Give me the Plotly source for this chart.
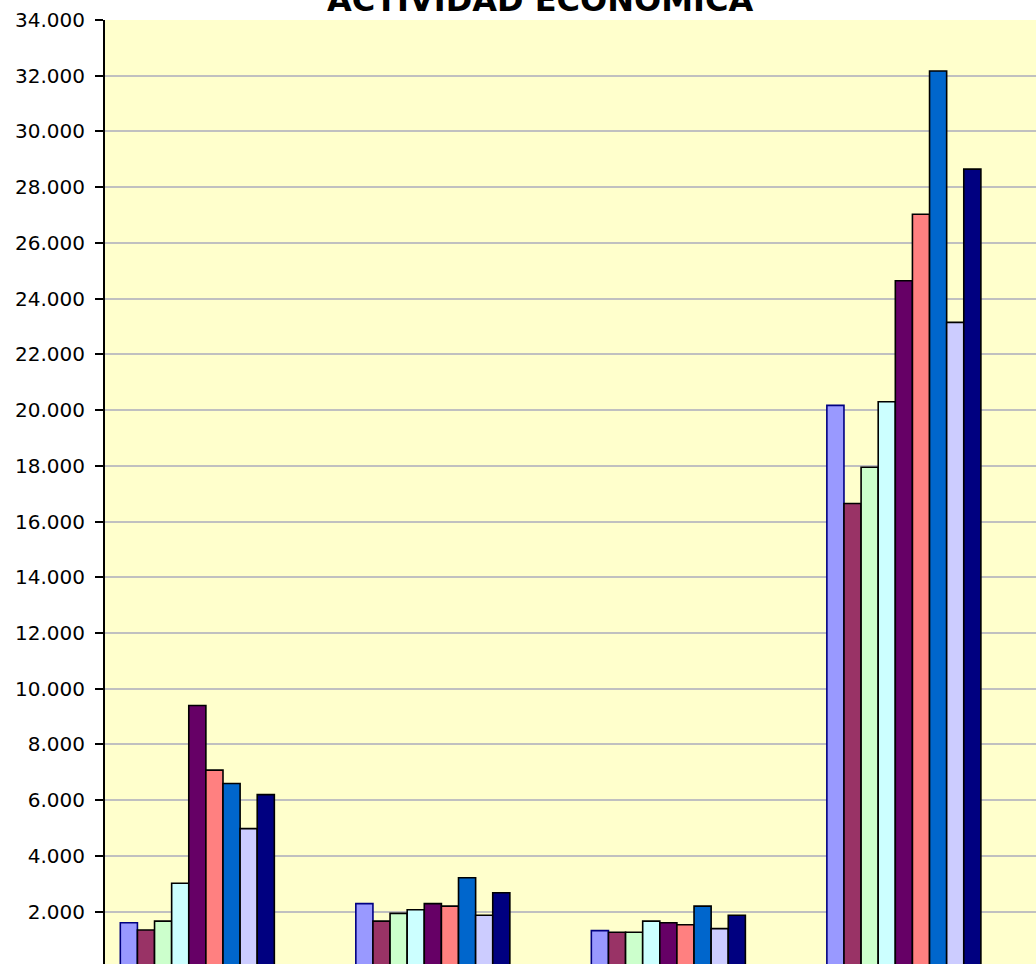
import plotly.graph_objects as go

categories = ["Agricultura", "Industria", "Construcción", "Servicios"]
series_names = ["Serie 1", "Serie 2", "Serie 3", "Serie 4", "Serie 5",
                "Serie 6", "Serie 7", "Serie 8", "Serie 9"]
series_values = [
    [1600, 2290, 1320, 20170],
    [1340, 1660, 1260, 16650],
    [1660, 1940, 1260, 17950],
    [3020, 2070, 1660, 20300],
    [9400, 2290, 1600, 24640],
    [7080, 2200, 1530, 27030],
    [6600, 3220, 2200, 32170],
    [4980, 1870, 1390, 23150],
    [6200, 2680, 1870, 28650],
]
colors = ["#9999FF", "#993366", "#CCFFCC", "#CCFFFF", "#660066",
          "#FF8080", "#0066CC", "#CCCCFF", "#000080"]
outline = ["#000080"] + ["#000000"] * 8
title_text = "ACTIVIDAD ECONÓMICA"
y_ticks = list(range(0, 34001, 2000))

fig = go.Figure()
for name, vals, c, oc in zip(series_names, series_values, colors, outline):
    fig.add_trace(go.Bar(x=categories, y=vals, name=name,
                         marker=dict(color=c, line=dict(color=oc, width=1.6))))

W, H = 1036, 964
ml, mt = 105, 20
fig.update_layout(
    width=W, height=H,
    margin=dict(l=ml, r=0, t=mt, b=0, pad=0),
    paper_bgcolor="white",
    plot_bgcolor="#FFFFCC",
    barmode="group",
    bargap=0.346,
    bargroupgap=0,
    showlegend=False,
    separators=",.",
    font=dict(family="Verdana, DejaVu Sans, sans-serif", color="#000000"),
    xaxis=dict(
        type="category",
        range=[-0.392, 3.561],
        showticklabels=False,
        showgrid=False,
        ticks="",
        zeroline=False,
        showline=False,
    ),
    yaxis=dict(
        range=[122, 34000],
        tickvals=y_ticks,
        tickformat=",d",
        showgrid=True,
        gridcolor="#C0C0C0",
        gridwidth=1.5,
        zeroline=False,
        showline=True,
        linecolor="#000000",
        linewidth=2,
        ticks="outside",
        ticklen=8,
        tickwidth=2,
        tickcolor="#000000",
        ticklabelstandoff=6,
        tickfont=dict(size=20, family="Verdana, DejaVu Sans, sans-serif", color="#000000"),
    ),
    annotations=[dict(
        text="<b>" + title_text + "</b>",
        xref="paper", yref="paper",
        x=0.467, y=1.0, xanchor="center", yanchor="bottom",
        yshift=-1,
        showarrow=False,
        font=dict(size=32, family="Verdana, DejaVu Sans, sans-serif", color="#000000"),
    )],
)

fig.write_html(
    "out.html",
    config={"displayModeBar": False},
    post_script="document.body.style.margin='0';document.body.style.overflow='hidden';",
)
